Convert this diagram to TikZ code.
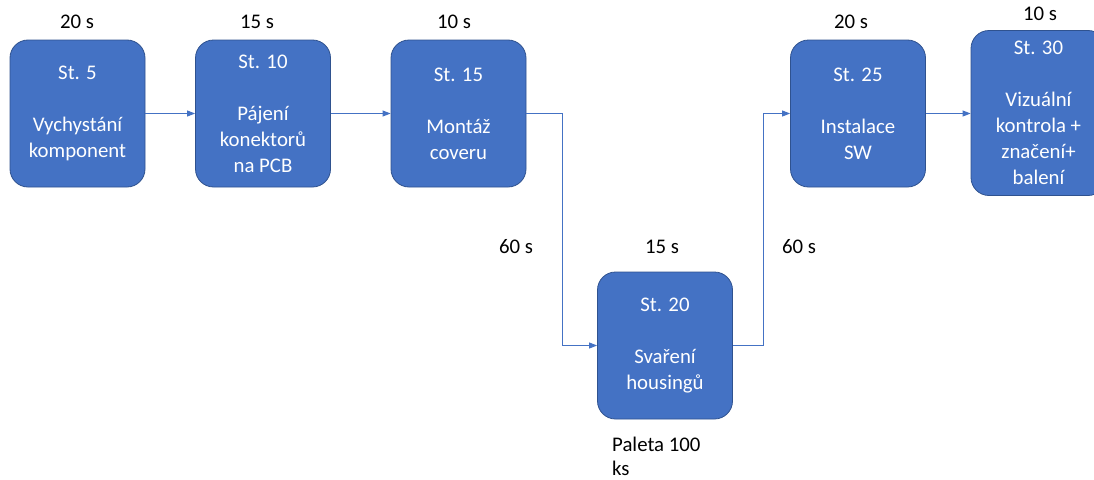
\documentclass[tikz,border=0pt]{standalone}
\usepackage{fontspec}
\setmainfont{Carlito}
\usetikzlibrary{arrows.meta}
\definecolor{boxfill}{HTML}{4472C4}
\definecolor{boxline}{HTML}{2F528F}
\begin{document}
\begin{tikzpicture}[x=1pt,y=-1pt,
  stbox/.style={draw=boxline, line width=0.8pt, fill=boxfill, rounded corners=18pt,
    minimum width=135pt, minimum height=147pt, inner sep=0pt, align=center,
    text=white, font=\fontsize{20.8}{26}\selectfont},
  lbl/.style={font=\fontsize{20.8}{24}\selectfont, text=black, inner sep=0pt},
  arr/.style={draw=boxfill, line width=1pt, -{Triangle[length=8pt,width=6pt]}}]
\useasboundingbox (0,0) rectangle (1094,479);
\node[stbox] (s5)  at (77.5,113.5)  {St. 5\\[26pt]Vychystání\\komponent};
\node[stbox] (s10) at (263,113.5)   {St. 10\\[26pt]Pájení\\konektorů\\na PCB};
\node[stbox] (s15) at (458.5,113.5) {St. 15\\[26pt]Montáž\\coveru};
\node[stbox] (s20) at (665,345.5)   {St. 20\\[26pt]Svaření\\housingů};
\node[stbox] (s25) at (858,113.5)   {St. 25\\[26pt]Instalace\\SW};
\node[stbox, minimum height=165pt] (s30) at (1038.5,113) {St. 30\\[26pt]Vizuální\\kontrola +\\značení+\\balení};

\node[lbl] (t5)  at (77,22)   {20 s};
\node[lbl] (t10) at (257,22)  {15 s};
\node[lbl] (t15) at (454,22)  {10 s};
\node[lbl] (t20) at (662,247) {15 s};
\node[lbl] (t25) at (851,22)  {20 s};
\node[lbl] (t30) at (1040,14) {10 s};
\node[lbl] (w1)  at (516,247) {60 s};
\node[lbl] (w2)  at (799,247) {60 s};
\node[lbl, align=left, anchor=west] (pal) at (612,456) {Paleta 100\\ks};

\coordinate (j1) at (562,0);
\coordinate (j2) at (763,0);
\draw[arr] (s5.east) -- (s10.west);
\draw[arr] (s10.east) -- (s15.west);
\draw[arr] (s15.east) -- (s15.east -| j1) |- (s20.west);
\draw[arr] (s20.east) -- (s20.east -| j2) |- (s25.west);
\draw[arr] (s25.east) -- (s25.east -| s30.west);
\end{tikzpicture}
\end{document}
